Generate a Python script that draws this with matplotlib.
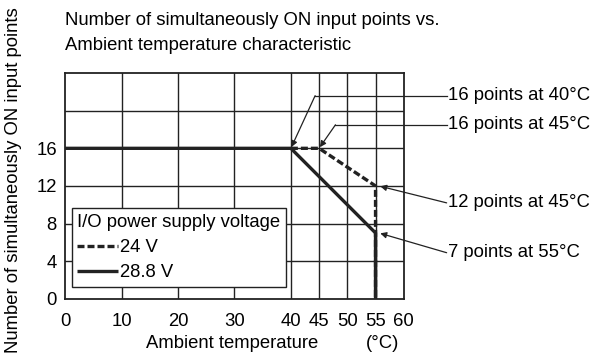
import matplotlib.pyplot as plt

plt.rcParams['font.family'] = ['Liberation Sans', 'DejaVu Sans']

# derating curves: ambient temperature (deg C) vs simultaneously ON points
temp_24v = [40, 45, 55, 55]
points_24v = [16, 16, 12, 0]
temp_288v = [0, 40, 55, 55]
points_288v = [16, 16, 7, 0]

x_grid = [10, 20, 30, 40, 45, 50, 55]
x_ticks = [0, 10, 20, 30, 40, 45, 50, 55, 60]
y_ticks = [0, 4, 8, 12, 16]
y_grid = [4, 8, 12, 16, 20]

# callouts: (label, point x, point y, corner x, corner y, label y)
callouts = [
    ('16 points at 40°C', 40, 16, 44.3, 21.6, 21.6),
    ('16 points at 45°C', 45, 16, 47.9, 18.5, 18.5),
    ('12 points at 45°C', 55, 12, None, None, 10.2),
    ('7 points at 55°C', 55, 7, None, None, 4.9),
]

FS = 13.3

fig = plt.figure(figsize=(5.92, 3.6), dpi=100)
ax = fig.add_axes([0.110, 0.170, 0.572, 0.627])
ax.set_xlim(0, 60)
ax.set_ylim(0, 24)

for gx in x_grid:
    ax.axvline(gx, color='#222222', linewidth=1.0, zorder=1)
for gy in y_grid:
    ax.axhline(gy, color='#222222', linewidth=1.0, zorder=1)

ax.plot(temp_288v, points_288v, color='#222222', linewidth=2.4,
        solid_capstyle='butt', zorder=3, label='28.8 V')
ax.plot(temp_24v, points_24v, color='#222222', linewidth=2.4,
        linestyle=(0, (2.1, 0.9)), zorder=4, label='24 V')

ax.set_xticks(x_ticks)
ax.set_yticks(y_ticks)
ax.tick_params(length=0, labelsize=FS)
ax.tick_params(axis='x', pad=10)
ax.tick_params(axis='y', pad=6)
for s in ax.spines.values():
    s.set_linewidth(1.3)
    s.set_color('#222222')

# callout lines and arrows
text_x = 67.6
for label, px, py, cx, cy, ty in callouts:
    if cx is not None:
        ax.plot([text_x, cx], [cy, cy], color='#222222', linewidth=0.9, clip_on=False)
        start = (cx, cy)
    else:
        start = (text_x, ty)
    ax.annotate('', xy=(px + (0.6 if cx is None else 0), py), xytext=start,
                annotation_clip=False,
                arrowprops=dict(arrowstyle='-|>', color='#222222', lw=0.9,
                                mutation_scale=9, shrinkA=0, shrinkB=1))
    ax.text(text_x + 0.2, ty, label, fontsize=FS, va='center', ha='left',
            clip_on=False)

handles, labels = ax.get_legend_handles_labels()
leg = ax.legend(handles[::-1], labels[::-1], title='I/O power supply voltage',
                loc='lower left', bbox_to_anchor=(0.02, 0.053), fontsize=FS,
                title_fontsize=FS, handlelength=2.2, handletextpad=0.1,
                borderpad=0.3, labelspacing=0.45, borderaxespad=0,
                fancybox=False, framealpha=1, edgecolor='#222222',
                alignment='left')
leg.get_frame().set_linewidth(1.0)
leg.set_zorder(5)

fig.text(0.110, 0.944, 'Number of simultaneously ON input points vs.', fontsize=FS,
         va='center', ha='left')
fig.text(0.110, 0.875, 'Ambient temperature characteristic', fontsize=FS,
         va='center', ha='left')
fig.text(0.022, 0.5, 'Number of simultaneously ON input points', fontsize=FS,
         rotation=90, va='center', ha='center')
fig.text(0.392, 0.047, 'Ambient temperature', fontsize=FS, va='center', ha='center')
fig.text(0.647, 0.047, '(°C)', fontsize=FS, va='center', ha='center')

fig.savefig('out.png', dpi=100)
